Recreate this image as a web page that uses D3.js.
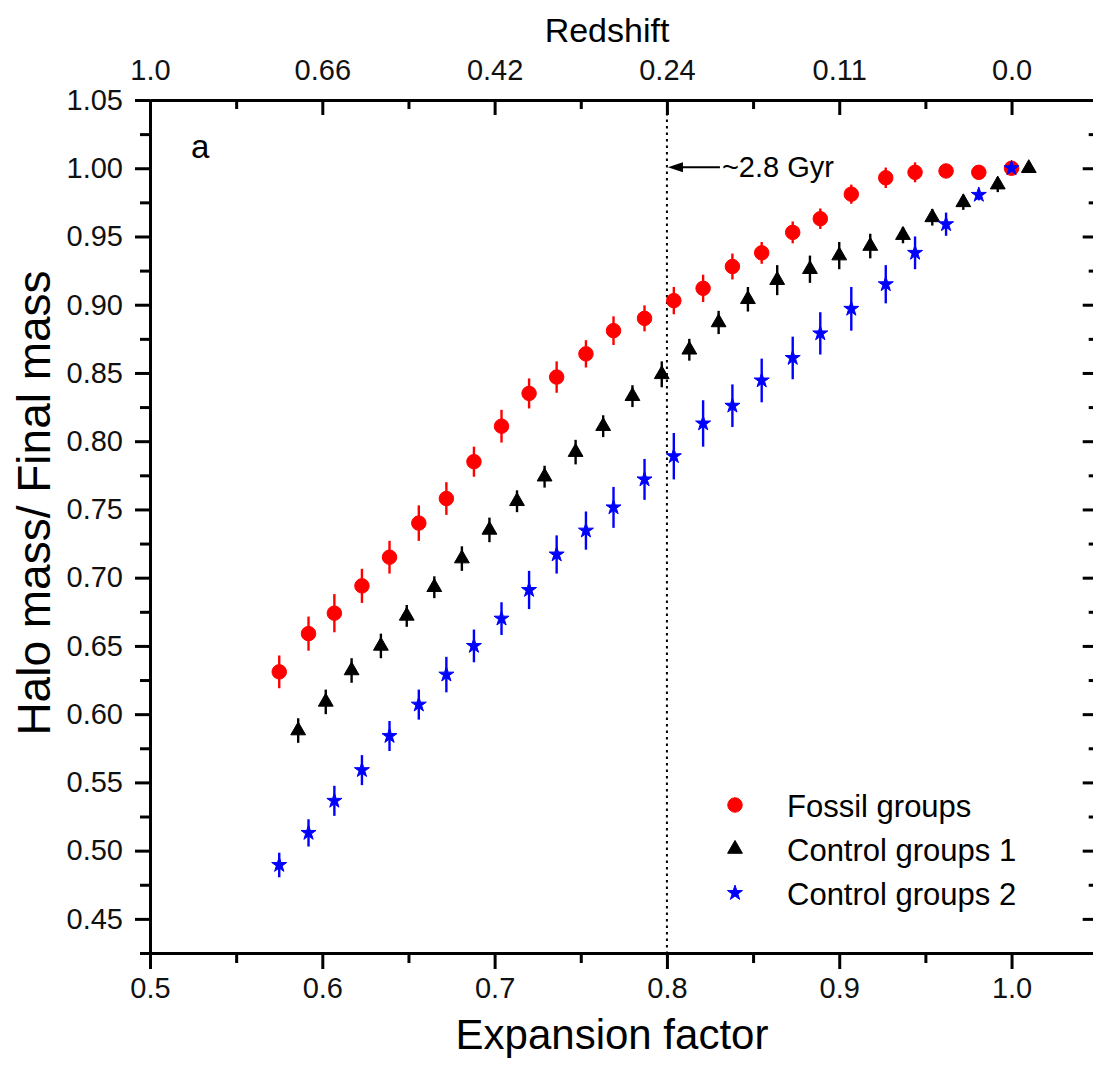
<!DOCTYPE html>
<html>
<head>
<meta charset="utf-8">
<script src="https://cdn.jsdelivr.net/npm/d3@7"></script>
<style>
  body { margin: 0; background: #fff; }
  svg { display: block; font-family: "Liberation Sans", Arial, sans-serif; }
  .axis path, .axis line { stroke: #000; stroke-width: 3; }
  .axis text { font-size: 29px; fill: #111; font-family: "Liberation Sans", Arial, sans-serif; }
</style>
</head>
<body>
<div id="chart"></div>
<script>
// DATA
// expansion factor of the fossil groups and control groups 2 points
const expansion = [0.575, 0.592, 0.607, 0.623, 0.639, 0.656, 0.672, 0.688, 0.704, 0.720, 0.736, 0.753, 0.769,
  0.787, 0.804, 0.821, 0.838, 0.855, 0.873, 0.889, 0.907, 0.927, 0.944, 0.962, 0.981, 1.000];
// control groups 1 are slightly shifted on x
const expansionControl1 = [0.586, 0.602, 0.617, 0.634, 0.649, 0.665, 0.681, 0.697, 0.713, 0.729, 0.747, 0.763, 0.780,
  0.797, 0.813, 0.830, 0.847, 0.864, 0.883, 0.900, 0.918, 0.937, 0.954, 0.972, 0.992, 1.010];

const fossilGroups = [0.631, 0.659, 0.674, 0.694, 0.715, 0.740, 0.758, 0.785, 0.811, 0.835, 0.847, 0.864, 0.881,
  0.890, 0.903, 0.912, 0.928, 0.938, 0.953, 0.963, 0.981, 0.993, 0.997, 0.998, 0.997, 1.000];
const fossilErr = [0.012, 0.0125, 0.014, 0.0125, 0.012, 0.013, 0.012, 0.011, 0.012, 0.011, 0.0115, 0.010, 0.0105,
  0.0095, 0.010, 0.010, 0.0095, 0.008, 0.008, 0.0075, 0.007, 0.0075, 0.0073, 0.004, 0.003, 0.002];

const controlGroups1 = [0.588, 0.609, 0.632, 0.650, 0.672, 0.693, 0.714, 0.735, 0.756, 0.774, 0.792, 0.811, 0.833,
  0.849, 0.867, 0.887, 0.904, 0.918, 0.926, 0.936, 0.943, 0.951, 0.964, 0.975, 0.988, 1.000];
const control1Err = [0.009, 0.009, 0.009, 0.009, 0.008, 0.008, 0.009, 0.009, 0.008, 0.008, 0.009, 0.008, 0.008,
  0.0095, 0.008, 0.0085, 0.009, 0.011, 0.010, 0.010, 0.009, 0.006, 0.006, 0.0055, 0.0055, 0.002];

const controlGroups2 = [0.4895, 0.513, 0.5365, 0.559, 0.584, 0.607, 0.629, 0.650, 0.670, 0.691, 0.717, 0.7345, 0.7515,
  0.772, 0.789, 0.813, 0.826, 0.8445, 0.861, 0.879, 0.897, 0.915, 0.938, 0.959, 0.9805, 1.000];
const control2Err = [0.009, 0.010, 0.011, 0.011, 0.011, 0.011, 0.013, 0.012, 0.012, 0.014, 0.014, 0.014, 0.015,
  0.015, 0.017, 0.017, 0.0156, 0.016, 0.0156, 0.0155, 0.016, 0.014, 0.012, 0.0085, 0.004, 0.002];

// ticks
const xMajorTicks = [0.5, 0.6, 0.7, 0.8, 0.9, 1.0];
const xMinorTicks = [0.55, 0.65, 0.75, 0.85, 0.95, 1.05];
const redshiftLabels = ['1.0', '0.66', '0.42', '0.24', '0.11', '0.0'];
const yMajorTicks = [0.45, 0.50, 0.55, 0.60, 0.65, 0.70, 0.75, 0.80, 0.85, 0.90, 0.95, 1.00, 1.05];
const yMinorTicks = [0.425, 0.475, 0.525, 0.575, 0.625, 0.675, 0.725, 0.775, 0.825, 0.875, 0.925, 0.975, 1.025];

const legendNames = ['Fossil groups', 'Control groups 1', 'Control groups 2'];

document.addEventListener('DOMContentLoaded', function(){
  drawChart();
});

// makeSeries
// zip x, y and error arrays into point objects
function makeSeries(xs, ys, errs) {
  return ys.map((v, i) => ({x: xs[i], y: v, e: errs[i]}));
}

function drawChart() {
  const width = 1093;
  const height = 1067;
  const left = 150, right = 1097.7, top = 100, bottom = 953;

  let svg = d3.select('#chart').append('svg')
    .attr('width', width)
    .attr('height', height);

  // SCALES
  let x = d3.scaleLinear().domain([0.5, 1.05]).range([left, right]);
  let y = d3.scaleLinear().domain([0.425, 1.05]).range([bottom, top]);

  // dotted line at a = 0.8
  svg.append('line')
    .attr('x1', x(0.8)).attr('x2', x(0.8))
    .attr('y1', top).attr('y2', bottom)
    .attr('stroke', '#000').attr('stroke-width', 2)
    .attr('stroke-dasharray', '2.5,4');

  // AXIS
  let axisGroup = svg.append('g').classed('axes', true);
  // bottom
  axisGroup.append('g').attr('class', 'axis').attr('transform', 'translate(0,' + bottom + ')')
    .call(d3.axisBottom(x).tickValues(xMajorTicks).tickFormat(d3.format('.1f')).tickSize(16).tickSizeOuter(0).tickPadding(8));
  axisGroup.append('g').attr('class', 'axis').attr('transform', 'translate(0,' + bottom + ')')
    .call(d3.axisBottom(x).tickValues(xMinorTicks).tickFormat('').tickSize(10).tickSizeOuter(0));
  // top (redshift)
  axisGroup.append('g').attr('class', 'axis').attr('transform', 'translate(0,' + top + ')')
    .call(d3.axisTop(x).tickValues(xMajorTicks).tickFormat((d, i) => redshiftLabels[i]).tickSize(-15).tickSizeOuter(0).tickPadding(20));
  axisGroup.append('g').attr('class', 'axis').attr('transform', 'translate(0,' + top + ')')
    .call(d3.axisTop(x).tickValues(xMinorTicks).tickFormat('').tickSize(-9).tickSizeOuter(0));
  // left
  axisGroup.append('g').attr('class', 'axis').attr('transform', 'translate(' + left + ',0)')
    .call(d3.axisLeft(y).tickValues(yMajorTicks).tickFormat(d3.format('.2f')).tickSize(15).tickSizeOuter(0).tickPadding(12));
  axisGroup.append('g').attr('class', 'axis').attr('transform', 'translate(' + left + ',0)')
    .call(d3.axisLeft(y).tickValues(yMinorTicks).tickFormat('').tickSize(10).tickSizeOuter(0));
  // right
  axisGroup.append('g').attr('class', 'axis').attr('transform', 'translate(' + right + ',0)')
    .call(d3.axisRight(y).tickValues(yMajorTicks).tickFormat('').tickSize(-15).tickSizeOuter(0));
  axisGroup.append('g').attr('class', 'axis').attr('transform', 'translate(' + right + ',0)')
    .call(d3.axisRight(y).tickValues(yMinorTicks).tickFormat('').tickSize(-9).tickSizeOuter(0));

  // Axis titles
  svg.append('text').attr('x', 607).attr('y', 42).attr('text-anchor', 'middle')
    .style('font-size', '34px').text('Redshift');
  svg.append('text').attr('x', 612).attr('y', 1049).attr('text-anchor', 'middle')
    .style('font-size', '42px').text('Expansion factor');
  svg.append('text').attr('transform', 'translate(50,503) rotate(-90)').attr('text-anchor', 'middle')
    .style('font-size', '46px').text('Halo mass/ Final mass');

  // panel label
  svg.append('text').attr('x', 191).attr('y', 158).style('font-size', '33px').text('a');

  // ~2.8 Gyr arrow
  let ay = y(1.0) - 1;
  svg.append('line')
    .attr('x1', x(0.8) + 12).attr('x2', x(0.8) + 53)
    .attr('y1', ay).attr('y2', ay)
    .attr('stroke', '#000').attr('stroke-width', 1.8);
  svg.append('path')
    .attr('d', 'M' + (x(0.8) + 1) + ',' + ay + ' L' + (x(0.8) + 16) + ',' + (ay - 5) + ' L' + (x(0.8) + 16) + ',' + (ay + 5) + 'Z')
    .attr('fill', '#000');
  svg.append('text').attr('x', x(0.8) + 55).attr('y', ay + 10).style('font-size', '29px').text('~2.8 Gyr');

  // SERIES
  let series = [
    {name: legendNames[0], color: '#ff0000', symbol: d3.symbolCircle, size: 165, data: makeSeries(expansion, fossilGroups, fossilErr)},
    {name: legendNames[1], color: '#000000', symbol: d3.symbolTriangle, size: 95, data: makeSeries(expansionControl1, controlGroups1, control1Err)},
    {name: legendNames[2], color: '#0000ff', symbol: d3.symbolStar, size: 70, data: makeSeries(expansion, controlGroups2, control2Err)}
  ];

  series.forEach(s => {
    let g = svg.append('g').classed('series', true);
    // error bars
    g.selectAll('line.err')
      .data(s.data)
      .enter()
      .append('line')
      .attr('class', 'err')
      .attr('x1', d => x(d.x)).attr('x2', d => x(d.x))
      .attr('y1', d => y(d.y - d.e)).attr('y2', d => y(d.y + d.e))
      .attr('stroke', s.color).attr('stroke-width', 2.4);
    // markers
    g.selectAll('path.marker')
      .data(s.data)
      .enter()
      .append('path')
      .attr('class', 'marker')
      .attr('d', d3.symbol().type(s.symbol).size(s.size))
      .attr('transform', d => 'translate(' + x(d.x) + ',' + y(d.y) + ')')
      .attr('fill', s.color)
      .attr('stroke', s.color).attr('stroke-width', 1);
  });

  // LEGEND
  let legend = svg.append('g').classed('legend', true);
  series.forEach((s, i) => {
    let ly = 805 + i * 44;
    legend.append('path')
      .attr('d', d3.symbol().type(s.symbol).size(s.size))
      .attr('transform', 'translate(735,' + ly + ')')
      .attr('fill', s.color).attr('stroke', s.color).attr('stroke-width', 1);
    legend.append('text')
      .attr('x', 787).attr('y', ly + 12)
      .style('font-size', '31px')
      .text(s.name);
  });
}
</script>
</body>
</html>
